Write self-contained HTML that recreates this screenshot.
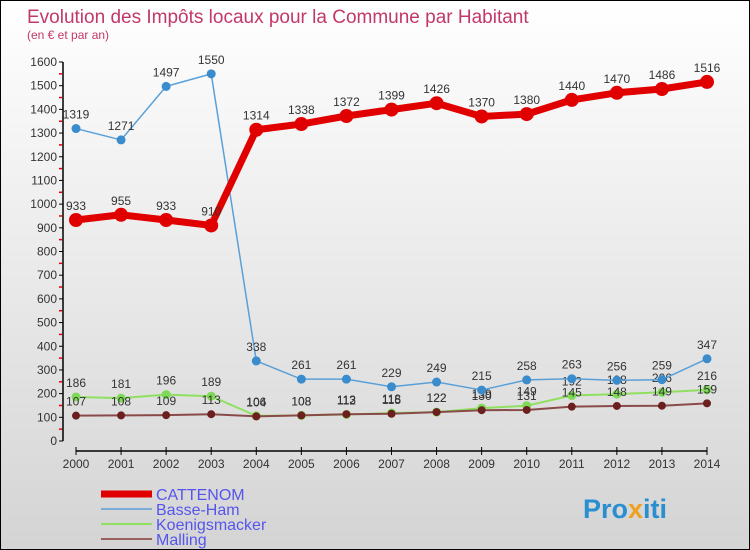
<!DOCTYPE html>
<html><head><meta charset="utf-8"><style>
body{margin:0}
#c{width:748px;height:548px;border:1px solid #000;background:linear-gradient(#fff,#d4d4d4);position:relative;overflow:hidden;font-family:"Liberation Sans",sans-serif}
text{font-family:"Liberation Sans",sans-serif}
</style></head><body>
<div id="c">
<svg id="s" width="748" height="548" xmlns="http://www.w3.org/2000/svg">
<text x="26" y="22" font-size="19" fill="#c2386a">Evolution des Impôts locaux pour la Commune par Habitant</text>
<text x="26" y="38" font-size="12" fill="#c2386a">(en € et par an)</text>
<g id="g"></g>
<text x="582" y="517" font-size="27" font-weight="bold" fill="#2a8fd0">Pro<tspan fill="#f0a020">x</tspan>iti</text>
</svg>
</div>
<script>
const years=[2000,2001,2002,2003,2004,2005,2006,2007,2008,2009,2010,2011,2012,2013,2014];
const yTicks=[0,100,200,300,400,500,600,700,800,900,1000,1100,1200,1300,1400,1500,1600];
const cattenom=[933,955,933,910,1314,1338,1372,1399,1426,1370,1380,1440,1470,1486,1516];
const basseHam=[1319,1271,1497,1550,338,261,261,229,249,215,258,263,256,259,347];
const koenigsmacker=[186,181,196,189,106,108,112,118,122,139,149,192,198,206,216];
const malling=[107,108,109,113,104,108,113,115,122,130,131,145,148,149,159];
const series=[
 {name:'Koenigsmacker',d:koenigsmacker,c:'#7ed957',lc:'#8fe060',w:2,r:4.5},
 {name:'Malling',d:malling,c:'#6b1f1f',lc:'#8a4a4a',w:2,r:4},
 {name:'Basse-Ham',d:basseHam,c:'#3a8ccc',lc:'#5aa0d8',w:1.5,r:4.5},
 {name:'CATTENOM',d:cattenom,c:'#e00000',lc:'#e00000',w:7,r:7}];
const X=i=>75+i*(706-75)/14, Y=v=>440-v*(440-61)/1600;
const NS='http://www.w3.org/2000/svg', g=document.getElementById('g');
function mk(t,a,p){const e=document.createElementNS(NS,t);for(const k in a)e.setAttribute(k,a[k]);(p||g).appendChild(e);return e;}
let ax=mk('line',{x1:62,y1:Y(1600),x2:62,y2:440,stroke:'#000','stroke-width':1.5});


yTicks.forEach(v=>{mk('line',{x1:58,y1:Y(v),x2:62,y2:Y(v),stroke:'#000'});
 if(v<1600)mk('line',{x1:58,y1:Y(v+50),x2:61,y2:Y(v+50),stroke:'#e00','stroke-width':1.5});
 const t=mk('text',{x:56,y:Y(v)+4,'font-size':12,fill:'#333','text-anchor':'end'});t.textContent=v;
 
 });
let xa=mk('line',{x1:75,y1:450,x2:706,y2:450,stroke:'#000','stroke-width':1.5});


years.forEach((y,i)=>{mk('line',{x1:X(i),y1:446,x2:X(i),y2:454,stroke:'#000'});
 const t=mk('text',{x:X(i),y:467,'font-size':12,fill:'#333','text-anchor':'middle'});t.textContent=y;
 
 });
series.forEach(s=>{
 const p=mk('polyline',{points:s.d.map((v,i)=>X(i)+','+Y(v)).join(' '),fill:'none',stroke:s.lc,'stroke-width':s.w,'stroke-linejoin':'round'});
 
 
 s.d.forEach((v,i)=>{const c=mk('circle',{cx:X(i),cy:Y(v),r:s.r,fill:s.c});
  
  
  const t=mk('text',{x:X(i),y:Y(v)-10,'font-size':12,fill:'#333','text-anchor':'middle'});t.textContent=v;
  
  });
});
const leg=[['CATTENOM','#e00000',7],['Basse-Ham','#7aaed8',2],['Koenigsmacker','#8fe060',2],['Malling','#9a6060',2]];
leg.forEach((l,i)=>{const y=493+i*15;
 mk('line',{x1:100,y1:y,x2:151,y2:y,stroke:l[1],'stroke-width':l[2]});
 const t=mk('text',{x:155,y:y+6,'font-size':16,fill:'#5555ee'});t.textContent=l[0];
 
 });
</script>
</body></html>
